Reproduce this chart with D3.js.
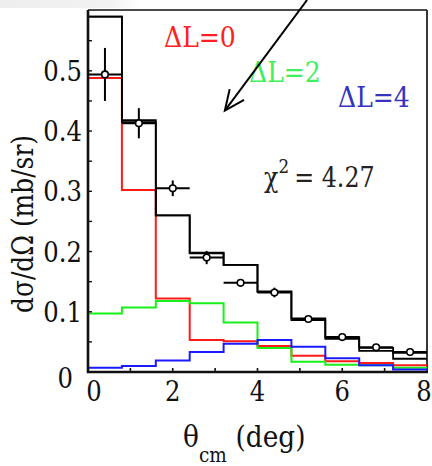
<!DOCTYPE html>
<html>
<head>
<meta charset="utf-8">
<script src="https://cdn.jsdelivr.net/npm/d3@7/dist/d3.min.js"></script>
<style>
  html, body { margin: 0; padding: 0; background: #fff; }
  svg { display: block; }
  svg text { font-family: "DejaVu Serif", "Liberation Serif", serif; }
</style>
</head>
<body>
<svg id="chart" width="432" height="466"></svg>
<script>
// Bin edges of the angular histograms (deg)
const binEdges = [0, 0.8, 1.6, 2.4, 3.2, 4.0, 4.8, 5.6, 6.4, 7.2, 8.0];

// DWBA components per bin (mb/sr)
const dL0 = [0.488, 0.302, 0.122, 0.053, 0.051, 0.043, 0.027, 0.018, 0.015, 0.011];
const dL2 = [0.097, 0.107, 0.118, 0.114, 0.082, 0.040, 0.017, 0.012, 0.011, 0.007];
const dL4 = [0.007, 0.010, 0.019, 0.033, 0.047, 0.053, 0.042, 0.023, 0.011, 0.004];

// Summed fits
const totalA = [0.590, 0.418, 0.260, 0.198, 0.178, 0.134, 0.089, 0.058, 0.040, 0.032];
const totalB = [0.590, 0.415, 0.260, 0.197, 0.178, 0.133, 0.086, 0.055, 0.035, 0.022];

// Measured cross sections
const theta = [0.4, 1.2, 2.0, 2.8, 3.6, 4.4, 5.2, 6.0, 6.8, 7.6];
const sigma = [0.494, 0.413, 0.305, 0.190, 0.148, 0.132, 0.088, 0.058, 0.041, 0.033];
const sigmaErr = [0.044, 0.025, 0.013, 0.011, 0.005, 0.008, 0.004, 0.003, 0.003, 0.003];
const thetaErr = [0.4, 0.4, 0.4, 0.4, 0.4, 0.4, 0.4, 0.4, 0.4, 0.4];

// Axis ticks
const xTickLabels = [0, 2, 4, 6, 8];
const xMinorTicks = [1, 2, 3, 4, 5, 6, 7];
const yTickLabels = [0.1, 0.2, 0.3, 0.4, 0.5];
const yMinorTicks = [0.05, 0.1, 0.15, 0.2, 0.25, 0.3, 0.35, 0.4, 0.45, 0.5, 0.55];

const svg = d3.select("#chart");

const padL = 88, padR = 427, padT = 10, padB = 372;
const x = d3.scaleLinear().domain([0, 8]).range([padL, padR]);
const y = d3.scaleLinear().domain([0, 0.601]).range([padB, padT]);

// text placed in its own group, narrowed horizontally for a Times-like width
function label(px, py, opts) {
  const g = svg.append("g")
    .attr("transform", `translate(${px},${py})${opts.rotate ? " rotate(" + opts.rotate + ")" : ""} scale(${opts.sx || 1},1)`);
  return g.append("text")
    .attr("text-anchor", opts.anchor || "start")
    .attr("font-size", opts.size)
    .attr("fill", opts.fill || "#111");
}

// faint band along the top edge
const grad = svg.append("defs").append("linearGradient")
  .attr("id", "band").attr("x1", 0).attr("x2", 1).attr("y1", 0).attr("y2", 0);
grad.append("stop").attr("offset", "0%").attr("stop-color", "#eeeeee");
grad.append("stop").attr("offset", "80%").attr("stop-color", "#f2f2f2");
grad.append("stop").attr("offset", "100%").attr("stop-color", "#ffffff");
svg.append("rect").attr("x", 0).attr("y", 0).attr("width", 140).attr("height", 8)
  .attr("fill", "url(#band)");

// frame
svg.append("line").attr("x1", padL).attr("x2", padR).attr("y1", padT).attr("y2", padT)
  .attr("stroke", "#111").attr("stroke-width", 1.6);
svg.append("line").attr("x1", padR).attr("x2", padR).attr("y1", padT).attr("y2", padB)
  .attr("stroke", "#222").attr("stroke-width", 1.8);

// step path for a histogram
function stepPath(vals) {
  let p = "";
  vals.forEach((v, i) => {
    const x0 = x(binEdges[i]), x1 = x(binEdges[i + 1]), yy = y(v);
    p += (i === 0 ? "M" : "L") + x0 + "," + yy + "L" + x1 + "," + yy;
  });
  return p;
}

const series = [
  { vals: dL0, color: "#ff1a1a", w: 2 },
  { vals: dL2, color: "#19f019", w: 2 },
  { vals: dL4, color: "#1a1aff", w: 2 },
  { vals: totalB, color: "#000", w: 1.8 },
  { vals: totalA, color: "#000", w: 1.8 }
];
svg.append("g").selectAll("path").data(series).join("path")
  .attr("d", d => stepPath(d.vals))
  .attr("fill", "none")
  .attr("stroke", d => d.color)
  .attr("stroke-width", d => d.w);

// axes lines
svg.append("line").attr("x1", padL).attr("x2", padL).attr("y1", padT).attr("y2", padB + 1)
  .attr("stroke", "#111").attr("stroke-width", 2.6);
svg.append("line").attr("x1", padL - 1).attr("x2", padR + 1).attr("y1", padB).attr("y2", padB)
  .attr("stroke", "#111").attr("stroke-width", 2.6);

// ticks
svg.append("g").selectAll("line").data(xMinorTicks).join("line")
  .attr("x1", d => x(d)).attr("x2", d => x(d))
  .attr("y1", padB).attr("y2", padB - 4)
  .attr("stroke", "#111").attr("stroke-width", 1.6);
svg.append("g").selectAll("line").data(yMinorTicks).join("line")
  .attr("x1", padL).attr("x2", padL + 4)
  .attr("y1", d => y(d)).attr("y2", d => y(d))
  .attr("stroke", "#111").attr("stroke-width", 1.4);

// tick labels
xTickLabels.forEach(v => {
  label(x(v) + (v === 0 ? 6 : (v === 8 ? -3 : 0)), 401, { anchor: "middle", size: 27, sx: 0.9 }).text(v);
});
yTickLabels.forEach(v => {
  label(82, y(v) + 10, { anchor: "end", size: 27, sx: 0.9 }).text(d3.format(".1f")(v));
});
label(73, y(0) + 16, { anchor: "end", size: 27, sx: 0.9 }).text("0");

// axis titles
label(33, 224, { anchor: "middle", size: 29, sx: 0.86, rotate: -90 }).text("dσ/dΩ (mb/sr)");
const xt = label(183, 447, { size: 30, sx: 0.88 });
xt.append("tspan").text("θ");
xt.append("tspan").attr("font-size", 21).attr("dy", 15).text("cm");
xt.append("tspan").attr("dy", -15).attr("dx", 10).text("(deg)");

// data points with error bars
const pts = theta.map((t, i) => ({ t, s: sigma[i], ds: sigmaErr[i], dt: thetaErr[i] }));
const pg = svg.append("g");
pg.selectAll("line.h").data(pts).join("line").attr("class", "h")
  .attr("x1", d => x(d.t - d.dt)).attr("x2", d => x(d.t + d.dt))
  .attr("y1", d => y(d.s)).attr("y2", d => y(d.s))
  .attr("stroke", "#000").attr("stroke-width", 2);
pg.selectAll("line.v").data(pts).join("line").attr("class", "v")
  .attr("x1", d => x(d.t)).attr("x2", d => x(d.t))
  .attr("y1", d => y(d.s - d.ds)).attr("y2", d => y(d.s + d.ds))
  .attr("stroke", "#000").attr("stroke-width", 2);
pg.selectAll("circle").data(pts).join("circle")
  .attr("cx", d => x(d.t)).attr("cy", d => y(d.s)).attr("r", 3.3)
  .attr("fill", "#fff").attr("stroke", "#000").attr("stroke-width", 1.6);

// component labels
label(164, 47, { size: 27, sx: 0.93, fill: "#ff2020" }).text("ΔL=0");
label(249, 82, { size: 27, sx: 0.93, fill: "#3cf060" }).text("ΔL=2");
label(338, 107, { size: 27, sx: 0.93, fill: "#3434c0" }).text("ΔL=4");
const chi = label(264, 187, { size: 27, sx: 0.88, fill: "#222" });
chi.append("tspan").text("χ");
chi.append("tspan").attr("font-size", 19).attr("dy", -14).text("2");
chi.append("tspan").attr("dy", 14).attr("dx", 6).text("= 4.27");

// arrow pointing into the plot
const tail = [x(5.17), 0], tip = [x(3.23), y(0.434)];
svg.append("line").attr("x1", tail[0]).attr("y1", tail[1]).attr("x2", tip[0]).attr("y2", tip[1])
  .attr("stroke", "#000").attr("stroke-width", 2);
const ang = Math.atan2(tail[1] - tip[1], tail[0] - tip[0]);
const armLen = 22, spread = 0.42;
const arms = [ang - spread, ang + spread].map(a => [tip[0] + armLen * Math.cos(a), tip[1] + armLen * Math.sin(a)]);
svg.append("path")
  .attr("d", `M${arms[0][0]},${arms[0][1]}L${tip[0]},${tip[1]}L${arms[1][0]},${arms[1][1]}`)
  .attr("fill", "none").attr("stroke", "#000").attr("stroke-width", 2);
</script>
</body>
</html>
